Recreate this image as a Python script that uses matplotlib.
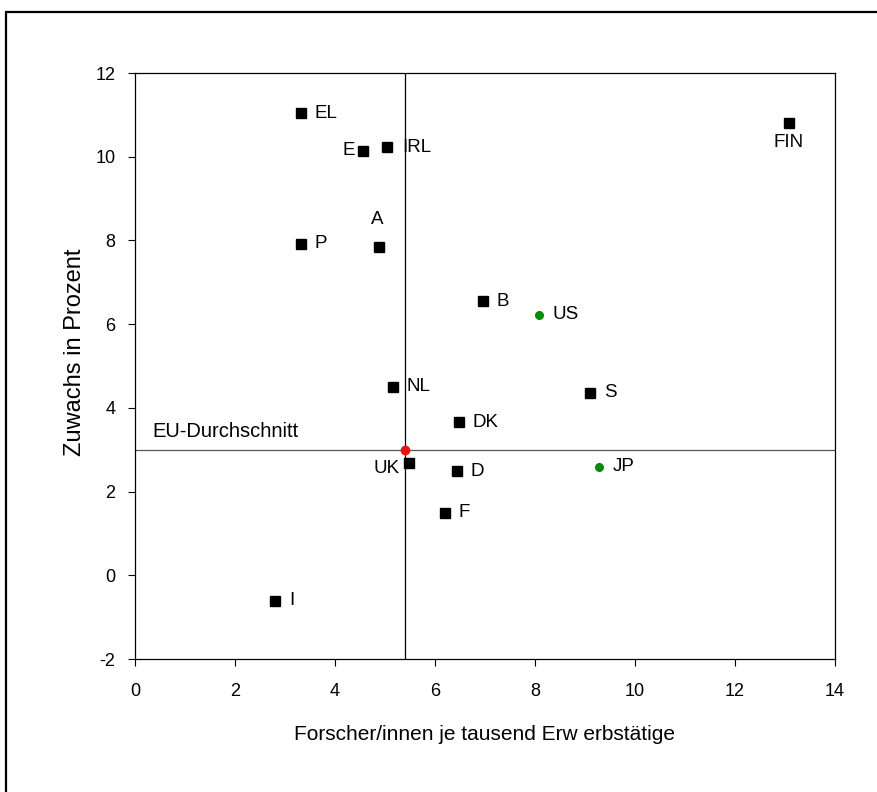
import matplotlib.pyplot as plt
from matplotlib.patches import Rectangle

plt.rcParams['font.family'] = ['Liberation Sans', 'DejaVu Sans']
plt.rcParams['axes.unicode_minus'] = False

# EU member states: researchers per 1000 employed vs growth in percent
eu_labels = ["EL", "E", "IRL", "P", "A", "B", "NL", "S", "DK", "UK", "D", "F", "I", "FIN"]
eu_x = [3.32, 4.56, 5.04, 3.32, 4.88, 6.96, 5.16, 9.10, 6.48, 5.48, 6.44, 6.20, 2.80, 13.08]
eu_y = [11.04, 10.14, 10.23, 7.92, 7.84, 6.55, 4.50, 4.36, 3.66, 2.68, 2.49, 1.49, -0.61, 10.81]

# comparison countries
other_labels = ["US", "JP"]
other_x = [8.08, 9.28]
other_y = [6.22, 2.59]

# EU average
avg_x = 5.4
avg_y = 3.0

# label offsets in points (dx, dy, ha, va)
offsets = {
    "EL": (10, 0, "left", "center"),
    "E": (-6, 0, "right", "center"),
    "IRL": (11, 0, "left", "center"),
    "P": (10, 0, "left", "center"),
    "A": (-1, 14, "center", "bottom"),
    "B": (10, 0, "left", "center"),
    "NL": (10, 0, "left", "center"),
    "S": (10, 0, "left", "center"),
    "DK": (10, 0, "left", "center"),
    "UK": (-7, -4, "right", "center"),
    "D": (10, 0, "left", "center"),
    "F": (10, 0, "left", "center"),
    "I": (10, 0, "left", "center"),
    "FIN": (0, -8, "center", "top"),
    "US": (10, 0, "left", "center"),
    "JP": (10, 0, "left", "center"),
}

fig = plt.figure(figsize=(8.77, 7.92), dpi=100)
ax = fig.add_axes([0.1539, 0.1679, 0.7982, 0.7399])

# outer frame (cropped at right and bottom)
fig.patches.append(Rectangle((6 / 877, -0.1), 1.2, 1 - 12 / 792 + 0.1,
                             transform=fig.transFigure, fill=False,
                             edgecolor="black", linewidth=1.6))

ax.axvline(avg_x, color="black", linewidth=0.9, zorder=1)
ax.axhline(avg_y, color="#555555", linewidth=0.9, zorder=1)

ax.plot(eu_x, eu_y, linestyle="none", marker="s", markersize=6.5,
        color="black", zorder=3)
ax.plot(other_x, other_y, linestyle="none", marker="o", markersize=5.5,
        color="#0a8a0a", zorder=3)
ax.plot([avg_x], [avg_y], linestyle="none", marker="o", markersize=6,
        color="#ee1111", zorder=4)

for lab, x, y in zip(eu_labels + other_labels, eu_x + other_x, eu_y + other_y):
    dx, dy, ha, va = offsets[lab]
    ax.annotate(lab, (x, y), xytext=(dx, dy), textcoords="offset points",
                ha=ha, va=va, fontsize=13.5)

ax.text(0.35, avg_y + 0.2, "EU-Durchschnitt", fontsize=14.5, ha="left", va="bottom")

ax.set_xlim(0, 14)
ax.set_ylim(-2, 12)
ax.set_xticks(range(0, 15, 2))
ax.set_yticks(range(-2, 13, 2))
ax.tick_params(direction="out", length=5, width=0.8, labelsize=13)
ax.tick_params(axis="x", pad=12)
ax.tick_params(axis="y", pad=9)
for s in ax.spines.values():
    s.set_linewidth(0.9)

ax.set_xlabel("Forscher/innen je tausend Erw erbstätige", fontsize=15, labelpad=18)
ax.set_ylabel("Zuwachs in Prozent", fontsize=17, labelpad=7)
ax.yaxis.label.set_y(0.524)

fig.savefig("out.png", dpi=100)
